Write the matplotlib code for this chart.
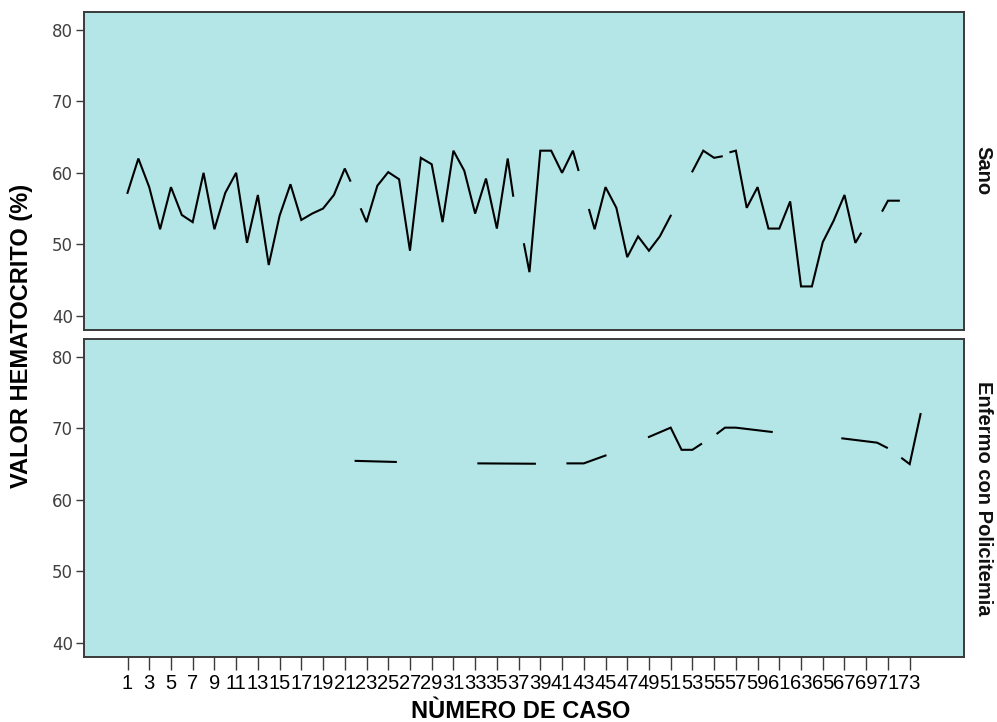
import numpy as np
import matplotlib.pyplot as plt

nan = np.nan

# Sano: tramos separados por nan (los extremos a medio caso son como en el original)
sano_caso = [1, 2, 3, 4, 5, 6, 7, 8, 9, 10, 11, 12, 13, 14, 15, 16, 17, 18, 19, 20, 21, 21.5, nan,
             22.5, 23, 24, 25, 26, 27, 28, 29, 30, 31, 32, 33, 34, 35, 36, 36.5, nan,
             37.5, 38, 39, 40, 41, 42, 42.5, nan,
             43.5, 44, 45, 46, 47, 48, 49, 50, 51, nan,
             53, 54, 55, 55.7, nan,
             56.5, 57, 58, 59, 60, 61, 62, 63, 64, 65, 66, 67, 68, 68.5, nan,
             70.5, 71, 72]
sano_valor = [57.2, 62.0, 58.0, 52.1, 58.0, 54.1, 53.1, 60.0, 52.1, 57.2, 60.0, 50.2, 56.9, 47.1, 54.0,
              58.4, 53.4, 54.3, 55.0, 56.9, 60.6, 58.9, nan,
              54.9, 53.1, 58.2, 60.1, 59.1, 49.1, 62.1, 61.2, 53.1, 63.1, 60.3, 54.3, 59.2, 52.2, 62.0, 56.8, nan,
              50.0, 46.1, 63.1, 63.1, 60.0, 63.1, 60.4, nan,
              54.8, 52.1, 58.0, 55.1, 48.2, 51.1, 49.1, 51.1, 54.0, nan,
              60.2, 63.1, 62.1, 62.3, nan,
              62.9, 63.1, 55.1, 58.0, 52.2, 52.2, 56.0, 44.1, 44.1, 50.3, 53.3, 56.9, 50.2, 51.5, nan,
              54.7, 56.1, 56.1]

enfermo_caso = [22, 25.7, nan,
                33.3, 38.5, nan,
                41.5, 43, 45, nan,
                49, 51, 52, 53, 53.8, nan,
                55.3, 56, 57, 60.3, nan,
                66.8, 70, 70.9, nan,
                72.3, 73, 74]
enfermo_valor = [65.45, 65.3, nan,
                 65.1, 65.05, nan,
                 65.1, 65.1, 66.2, nan,
                 68.8, 70.1, 67.0, 67.0, 67.8, nan,
                 69.3, 70.1, 70.1, 69.5, nan,
                 68.6, 68.0, 67.3, nan,
                 65.8, 65.0, 72.0]

paneles = ['Sano', 'Enfermo con Policitemia']
ticks_caso = list(range(1, 74, 2))
ticks_valor = [40, 50, 60, 70, 80]

fondo = '#b4e6e7'
borde = '#3a3a3a'

fig = plt.figure(figsize=(9.97, 7.22), dpi=100)
ax_top = fig.add_axes([0.0843, 0.5429, 0.8826, 0.4404])
ax_bot = fig.add_axes([0.0843, 0.0900, 0.8826, 0.4404])

series = [(sano_caso, sano_valor), (enfermo_caso, enfermo_valor)]
for ax, (x, y), nombre in zip([ax_top, ax_bot], series, paneles):
    ax.set_facecolor(fondo)
    ax.plot(x, y, color='black', lw=1.5, solid_joinstyle='miter')
    ax.set_xlim(-3, 78)
    ax.set_ylim(38, 82.5)
    ax.set_yticks(ticks_valor)
    ax.set_yticklabels([str(v) for v in ticks_valor], fontsize=12, color='#404040',
                       family='DejaVu Sans')
    ax.tick_params(axis='y', length=6, width=1, color=borde, pad=2)
    for s in ax.spines.values():
        s.set_color(borde)
        s.set_linewidth(1.4)
    ax.text(1.011, 0.5, nombre, transform=ax.transAxes, rotation=-90,
            ha='left', va='center', fontsize=14.5, fontweight='bold',
            family='Liberation Sans', color='#111111')

ax_top.tick_params(axis='x', bottom=False, labelbottom=False)
ax_bot.set_xticks(ticks_caso)
ax_bot.set_xticklabels([str(t) for t in ticks_caso], fontsize=14.5, family='Liberation Sans')
ax_bot.tick_params(axis='x', length=9, width=1, color=borde, pad=3)

fig.text(0.022, 0.535, 'VALOR HEMATOCRITO (%)', rotation=90, ha='center', va='center',
         fontsize=17, fontweight='bold', family='Liberation Sans')
fig.text(0.522, 0.014, 'NÙMERO DE CASO', ha='center', va='center',
         fontsize=17, fontweight='bold', family='Liberation Sans')

fig.savefig('out.png', dpi=100)
